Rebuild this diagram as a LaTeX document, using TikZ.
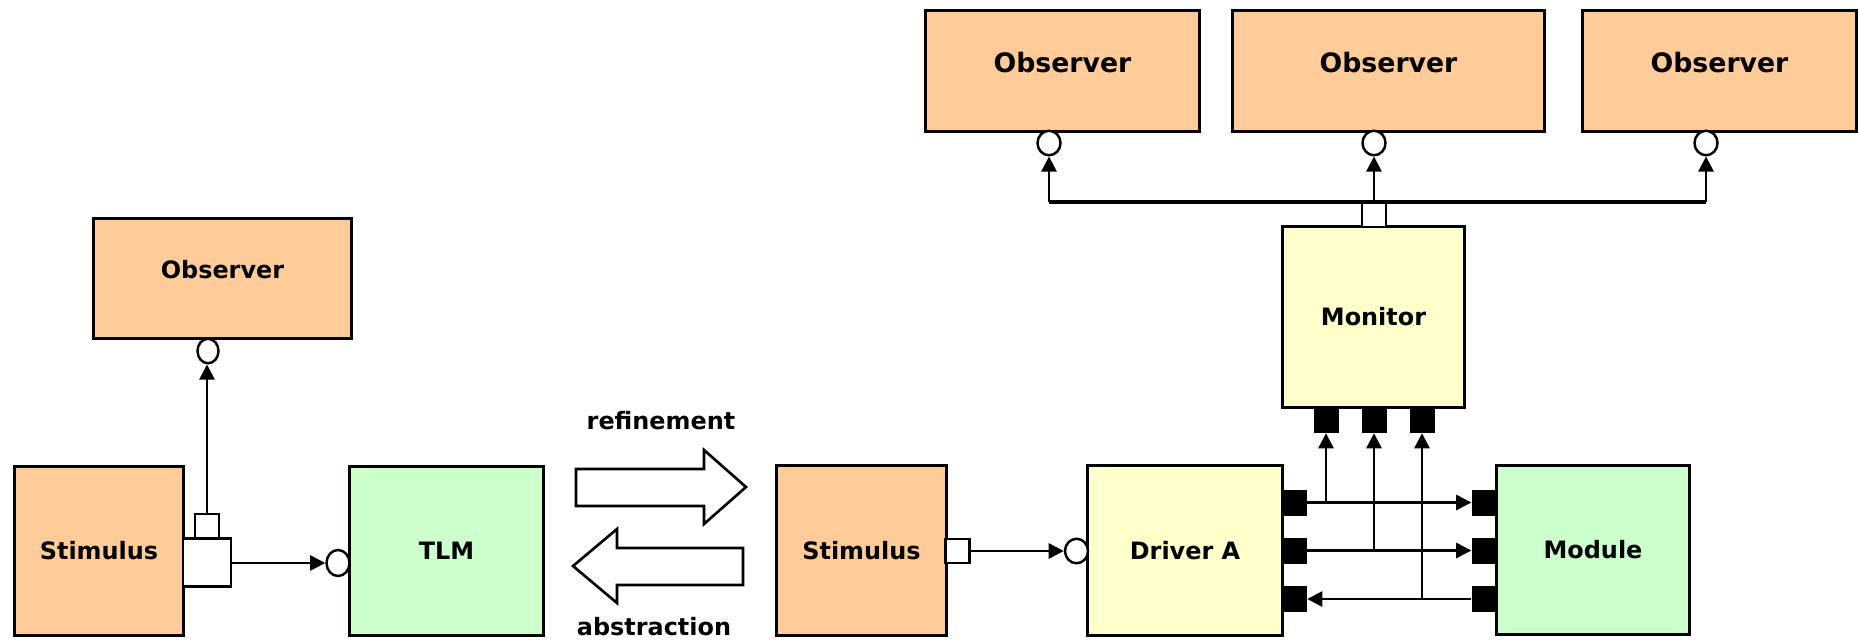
\documentclass[tikz,border=0pt]{standalone}
\usepackage{fontspec}
\setmainfont{DejaVu Sans}
\usetikzlibrary{arrows.meta,shapes.geometric}
\definecolor{obsorange}{HTML}{FFCC99}
\definecolor{drvyellow}{HTML}{FFFFCC}
\definecolor{modgreen}{HTML}{CCFFCC}
\tikzset{
  unit/.style={draw, line width=0.85pt, inner sep=0pt, font=\bfseries\fontsize{6.8}{8}\selectfont},
  observer/.style={unit, fill=obsorange, minimum height=1.2cm, text depth=5pt},
  stimulus/.style={unit, fill=obsorange, minimum width=1.68cm, minimum height=1.68cm},
  wport/.style={draw, fill=white, line width=0.7pt, inner sep=0pt, minimum size=0.24cm},
  bport/.style={fill=black, inner sep=0pt, minimum width=0.25cm, minimum height=0.26cm},
  iport/.style={ellipse, draw, fill=white, line width=0.7pt, inner sep=0pt, minimum width=0.23cm, minimum height=0.245cm},
  conn/.style={line width=0.7pt, -{Triangle[length=4.3pt,width=4.3pt]}},
  bus/.style={line width=1.2pt},
  bigarrow/.style={draw, line width=0.75pt, fill=white},
  caption/.style={font=\bfseries\fontsize{6.8}{8}\selectfont}
}
\begin{document}
\begin{tikzpicture}[x=0.01cm, y=-0.01cm]
                \useasboundingbox (0, 0) rectangle (1858, 642);

                \node[observer, minimum width=2.57cm] (obsL) at (222.5, 278.5) {Observer};

                \node[stimulus] (stimL) at (99, 551) {Stimulus};

                \node[wport, minimum size=0.48cm] (pbL) at (207, 562.5) {};

                \node[wport] (psL) at (207, 526) {};

                \node[iport, minimum width=0.21cm] (icL) at (208, 351) {};

                \node[unit, fill=modgreen, minimum width=1.93cm, minimum height=1.68cm] (tlm) at (446.5, 551) {TLM};

                \node[iport, minimum height=0.26cm] (icT) at (338, 563) {};

                \draw[conn] (psL.north) -- (psL.north |- icL.south);

                \draw[conn] (pbL.east |- icT) -- (icT.west);

                \draw[bigarrow] (576, 469) -- (704, 469) -- (704, 450) -- (746, 487) -- (704, 524) -- (704, 506) -- (576, 506) -- cycle;

                \draw[bigarrow] (743, 548) -- (617, 548) -- (617, 529) -- (573, 566) -- (617, 603) -- (617, 585) -- (743, 585) -- cycle;

                \node[caption] (refine) at (661, 421) {refinement};

                \node[caption] (abstract) at (654, 627) {abstraction};

                \node[stimulus, minimum width=1.69cm, minimum height=1.69cm] (stimM) at (861.5, 550.5) {Stimulus};

                \node[wport] (pM) at (957.5, 551) {};

                \node[unit, fill=drvyellow, minimum width=1.94cm, minimum height=1.69cm] (drv) at (1185, 550.5) {Driver A};

                \node[iport] (icD) at (1076.5, 551) {};

                \draw[conn] (pM.east) -- (icD.west);

                \node[unit, fill=modgreen, minimum width=1.92cm, minimum height=1.68cm] (mod) at (1593, 550) {Module};

                \node[bport] (dp1) at (1294, 502.5) {};

                \node[bport] (dp2) at (1294, 550.5) {};

                \node[bport] (dp3) at (1294, 599) {};

                \node[bport] (mp1) at (1484.5, 502.5) {};

                \node[bport] (mp2) at (1484.5, 550.5) {};

                \node[bport] (mp3) at (1484.5, 599) {};

                \node[unit, fill=drvyellow, minimum width=1.81cm, minimum height=1.8cm] (mon) at (1373.5, 317) {Monitor};

                \node[bport] (np1) at (1326, 419.5) {};

                \node[bport] (np2) at (1374, 419.5) {};

                \node[bport] (np3) at (1422, 419.5) {};

                \node[wport] (nw) at (1374, 215) {};

                \draw[conn] (dp1.east) -- (mp1.west);

                \draw[conn] (dp2.east) -- (mp2.west);

                \draw[conn] (mp3.west) -- (dp3.east);

                \draw[conn] (np1 |- dp1) -- (np1.south);

                \draw[conn] (np2 |- dp2) -- (np2.south);

                \draw[conn] (np3 |- dp3) -- (np3.south);

                \node[observer, minimum width=2.73cm, font=\bfseries\fontsize{7.6}{9}\selectfont] (obs1) at (1062.5, 71) {Observer};

                \node[observer, minimum width=3.11cm, font=\bfseries\fontsize{7.6}{9}\selectfont] (obs2) at (1388.5, 71) {Observer};

                \node[observer, minimum width=2.74cm, font=\bfseries\fontsize{7.6}{9}\selectfont] (obs3) at (1719.5, 71) {Observer};

                \node[iport] (ic1) at (1049, 143) {};

                \node[iport] (ic2) at (1374, 143) {};

                \node[iport] (ic3) at (1706, 143) {};

                \draw[bus] (ic1 |- nw.north) -- (ic3 |- nw.north);

                \draw[conn] (ic1 |- nw.north) -- (ic1.south);

                \draw[conn] (nw.north) -- (ic2.south);

                \draw[conn] (ic3 |- nw.north) -- (ic3.south);
            \end{tikzpicture}
\end{document}
